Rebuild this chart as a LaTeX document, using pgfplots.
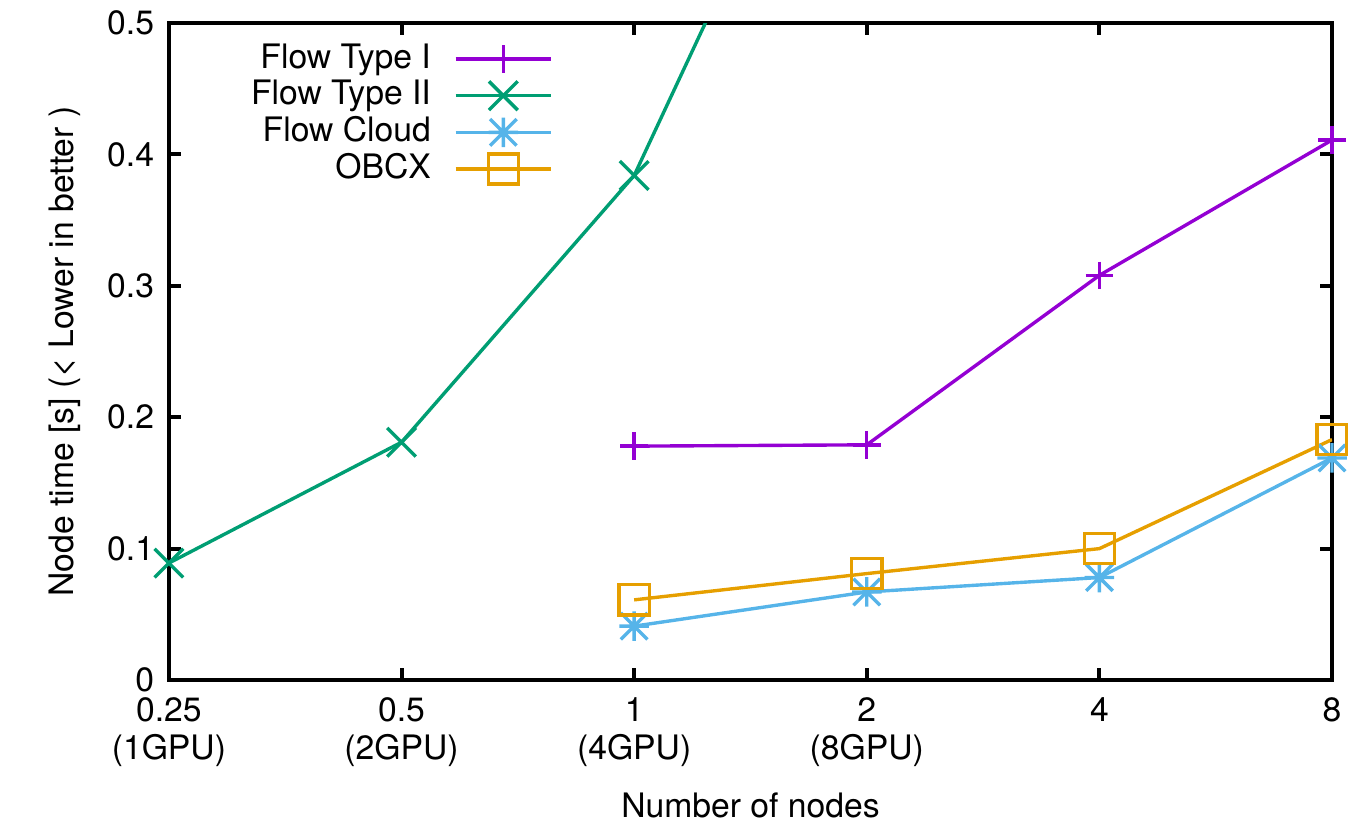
\documentclass[border=0pt,11pt]{standalone}
\usepackage{fontspec}
\setmainfont{TeX Gyre Heros}
\usepackage{pgfplots}
\pgfplotsset{compat=1.18}
\definecolor{cI}{HTML}{9400D3}
\definecolor{cII}{HTML}{009E73}
\definecolor{cCl}{HTML}{56B4E9}
\definecolor{cOB}{HTML}{E69F00}
\pgfdeclareplotmark{gpstar}{%
  \pgfpathmoveto{\pgfqpoint{0pt}{\pgfplotmarksize}}%
  \pgfpathlineto{\pgfqpoint{0pt}{-\pgfplotmarksize}}%
  \pgfpathmoveto{\pgfqpoint{\pgfplotmarksize}{0pt}}%
  \pgfpathlineto{\pgfqpoint{-\pgfplotmarksize}{0pt}}%
  \pgfpathmoveto{\pgfqpoint{.9\pgfplotmarksize}{.9\pgfplotmarksize}}%
  \pgfpathlineto{\pgfqpoint{-.9\pgfplotmarksize}{-.9\pgfplotmarksize}}%
  \pgfpathmoveto{\pgfqpoint{.9\pgfplotmarksize}{-.9\pgfplotmarksize}}%
  \pgfpathlineto{\pgfqpoint{-.9\pgfplotmarksize}{.9\pgfplotmarksize}}%
  \pgfusepathqstroke}
\begin{document}
\begin{tikzpicture}
\begin{axis}[
  at={(0,0)}, anchor=south west,
  scale only axis, width=378pt, height=213.5pt,
  xmin=0, xmax=5, ymin=0, ymax=0.5,
  xtick={0,1,2,3,4,5},
  xticklabels={{0.25\\(1GPU)},{0.5\\(2GPU)},{1\\(4GPU)},{2\\(8GPU)},{4},{8}},
  xticklabel style={align=center, anchor=north, yshift=-2pt, font=\fontsize{10.95}{12.35}\selectfont},
  ytick={0,0.1,0.2,0.3,0.4,0.5},
  yticklabel style={/pgf/number format/fixed, /pgf/number format/assume math mode=true, xshift=-1pt},
  tick pos=both, tick align=inside, major tick length=4pt,
  axis line style={line width=1.3pt},
  every tick/.style={line width=1.3pt, black},
  xlabel={Number of nodes},
  xlabel style={yshift=-1pt},
  ylabel={Node time [s] (< Lower in better )},
  ylabel style={yshift=1pt},
  legend style={draw=none, fill=none, inner sep=0pt, at={(0.3305,0.974)}, anchor=north east,
    legend cell align=right, column sep=6.5pt,
    nodes={inner sep=1pt, text height=7.9pt, text depth=2pt}},
  legend plot pos=right,
  legend image code/.code={\draw[mark repeat=2,mark phase=2,#1] plot coordinates {(0pt,0pt) (15.5pt,0pt) (31pt,0pt)};},
  every axis plot/.append style={line width=1.1pt},
]
\addplot[cI, mark=+, mark size=4.5pt, mark options={solid}] coordinates {
  (2,0.178) (3,0.179) (4,0.308) (5,0.411)};
\addlegendentry{Flow Type I}
\addplot[cII, mark=x, mark size=6.6pt, mark options={solid}] coordinates {
  (0,0.089) (1,0.181) (2,0.384) (3,0.763)};
\addlegendentry{Flow Type II}
\addplot[cCl, mark=gpstar, mark size=4.8pt, mark options={solid}] coordinates {
  (2,0.041) (3,0.067) (4,0.078) (5,0.169)};
\addlegendentry{Flow Cloud}
\addplot[cOB, mark=square, mark size=4.9pt, mark options={solid}] coordinates {
  (2,0.061) (3,0.081) (4,0.100) (5,0.183)};
\addlegendentry{OBCX}
\end{axis}
\pgfresetboundingbox
\path (-54.9pt,-46.8pt) rectangle (383.2pt,221pt);
\end{tikzpicture}
\end{document}
